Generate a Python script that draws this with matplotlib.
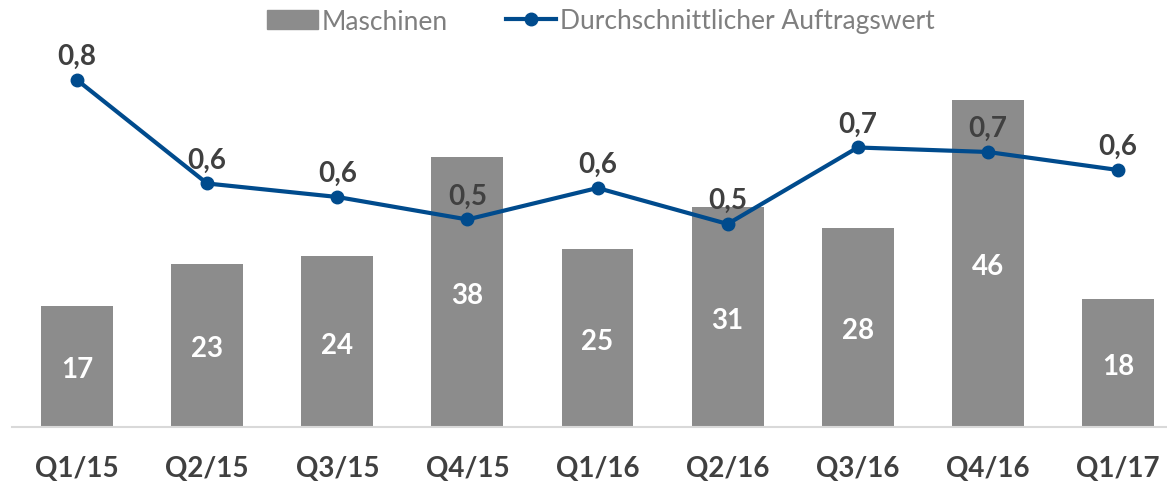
import matplotlib
matplotlib.use("Agg")
import matplotlib.pyplot as plt
from matplotlib.patches import Patch
from matplotlib.lines import Line2D

quarters = ["Q1/15", "Q2/15", "Q3/15", "Q4/15", "Q1/16", "Q2/16", "Q3/16", "Q4/16", "Q1/17"]
maschinen = [17, 23, 24, 38, 25, 31, 28, 46, 18]
auftragswert = [0.83, 0.60, 0.57, 0.52, 0.59, 0.51, 0.68, 0.67, 0.63]

C_BAR = "#8c8c8c"
C_LINE = "#004b8d"
C_TXT = "#404040"
C_LEG = "#7f7f7f"

plt.rcParams["font.family"] = ["Lato", "DejaVu Sans"]

fig = plt.figure(figsize=(11.67, 4.85), dpi=100)
ax = fig.add_axes([12 / 1167, 57 / 485, 1171 / 1167, 388 / 485])
ax2 = ax.twinx()

x = list(range(len(quarters)))
ax.bar(x, maschinen, width=0.553, color=C_BAR, zorder=2)
for xi, v in zip(x, maschinen):
    ax.text(xi, v / 2 - 0.4, str(v), ha="center", va="center", color="white",
            fontsize=20, fontweight="bold")
ax.set_xlim(-0.5, 8.5)
ax.set_ylim(0, 54.6)
ax.set_xticks(x)
ax.set_xticklabels(quarters, fontsize=20, fontweight="bold", color=C_TXT)
ax.tick_params(axis="x", length=0, pad=20)
ax.set_yticks([])
for s in ["top", "left", "right"]:
    ax.spines[s].set_visible(False)
ax.spines["bottom"].set_color("#d9d9d9")
ax.spines["bottom"].set_linewidth(1.5)

ax2.plot(x, auftragswert, color=C_LINE, lw=3, marker="o", markersize=9, zorder=3)
for xi, v in zip(x, auftragswert):
    ax2.annotate(f"{v:.1f}".replace(".", ","), (xi, v), xytext=(0, 8),
                 textcoords="offset points", ha="center", va="bottom",
                 fontsize=20, fontweight="bold", color=C_TXT)
ax2.set_ylim(0.0588, 0.9211)
ax2.set_yticks([])
for s in ["top", "left", "right", "bottom"]:
    ax2.spines[s].set_visible(False)

handles = [Patch(color=C_BAR, label="Maschinen"),
           Line2D([], [], color=C_LINE, lw=3, marker="o", markersize=9,
                  label="Durchschnittlicher Auftragswert")]
fig.legend(handles=handles, loc="center", bbox_to_anchor=(601 / 1167, 1 - 22 / 485),
           ncol=2, frameon=False, fontsize=19, handlelength=1.9,
           handletextpad=0.15, columnspacing=2.2, labelcolor=C_LEG)

fig.savefig("out.png", dpi=100)
